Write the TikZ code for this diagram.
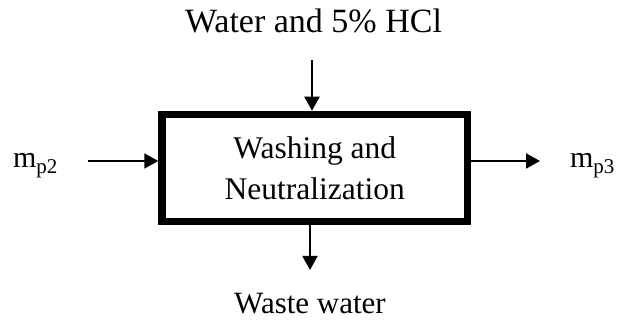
\documentclass[tikz,border=0pt]{standalone}
\usepackage{fontspec}
\setmainfont{Liberation Serif}
\usetikzlibrary{arrows.meta}
\tikzset{
  procbox/.style={draw, line width=7.5pt, minimum width=305.5pt, minimum height=107pt, inner sep=0pt, align=center, font=\fontsize{31.5}{41}\selectfont},
  lbl/.style={anchor=base, inner sep=0pt, font=\fontsize{31}{36}\selectfont},
  toplbl/.style={lbl, font=\fontsize{34}{40}\selectfont},
  flow/.style={line width=2pt, -{Triangle[width=15pt,length=14pt]}}
}
\begin{document}
\begin{tikzpicture}[x=1pt,y=-1pt]
\useasboundingbox (0,0) rectangle (618,320);
\node[procbox] (box) at (314.75,168) {Washing and\\Neutralization};
\node[toplbl] (top) at (313.5,33) {Water and 5\% HCl};
\node[lbl] (bot) at (310,313.5) {Waste water};
\node[lbl, font=\fontsize{30}{36}\selectfont] (in) at (35.5,168) {m\textsubscript{p2}};
\node[lbl, font=\fontsize{30}{36}\selectfont] (out) at (592.5,168) {m\textsubscript{p3}};
\coordinate (ts) at (312,60);
\coordinate (be) at (310,270);
\coordinate (ls) at (88,161);
\coordinate (re) at (540,161);
\draw[flow] (ts) -- (ts |- box.north);
\draw[flow] (be |- box.south) -- (be);
\draw[flow] (ls) -- (ls -| box.west);
\draw[flow] (re -| box.east) -- (re);
\end{tikzpicture}
\end{document}
